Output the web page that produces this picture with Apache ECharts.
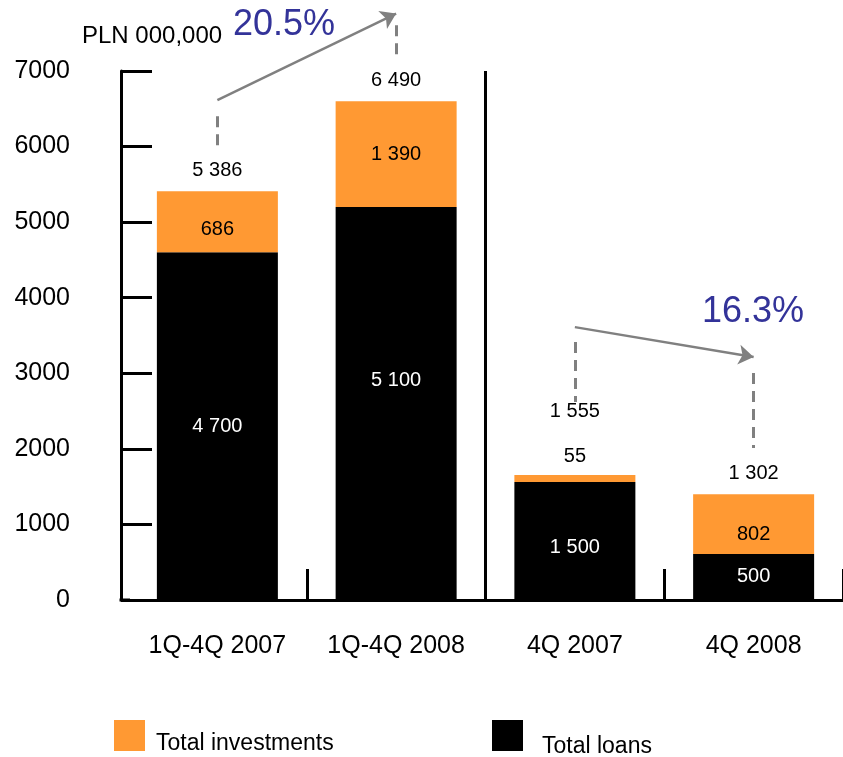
<!DOCTYPE html>
<html>
<head>
<meta charset="utf-8">
<script src="https://cdn.jsdelivr.net/npm/echarts@6/dist/echarts.min.js"></script>
<style>
  html, body { margin: 0; padding: 0; background: #fff; }
  #chart { width: 843px; height: 757px; }
</style>
</head>
<body>
<div id="chart"></div>
<script>
// values
const categories = ['1Q-4Q 2007', '1Q-4Q 2008', '4Q 2007', '4Q 2008'];
const loans = [4600, 5200, 1560, 610];          // bar heights as drawn
const investments = [810, 1400, 95, 790];
const loanLabels = ['4 700', '5 100', '1 500', '500'];
const investmentLabels = ['686', '1 390', '55', '802'];
const totalLabels = ['5 386', '6 490', '1 555', '1 302'];
const growthLabels = ['20.5%', '16.3%'];
const yMax = 7000;
const yStep = 1000;

// annotations (x in category units, y in axis values)
const arrows = [
    [[0.5, 6614], [1.5, 7760]],
    [[2.5, 3611], [3.5, 3215]]
];
const dashes = [
    [[0.5, 6402], [0.5, 6019]],
    [[1.5, 7606], [1.5, 7209]],
    [[2.5, 3413], [2.5, 2619]],
    [[3.5, 3003], [3.5, 2011]]
];
const growthPos = [[0.873, 7609], [3.497, 3811]];
const separator = [[2, 0], [2, yMax]];

const FONT = "'Liberation Sans', Arial, sans-serif";
const ORANGE = '#FF9933';
const GREY = '#808080';

// small per-bar nudges of the inside labels
const loanOffsets = [[0, 0], [0, -23], [0, 6], [0, 0]];
const invOffsets = [[0, 8], [0, 0], [0, 0], [0, 10]];

const gridTop = 71, gridBottom = 157, gridLeft = 128;
const annoMax = yMax * (757 - gridBottom) / (757 - gridBottom - gridTop);

function legendText(padTop, padLeft) {
    return {
        fontSize: 23,
        color: '#000',
        fontFamily: FONT,
        rich: {
            t: { fontSize: 23, color: '#000', fontFamily: FONT, padding: [padTop, 0, 0, padLeft] }
        }
    };
}

let chart = echarts.init(document.getElementById('chart'));
chart.setOption({
    animation: false,
    textStyle: { fontFamily: FONT },
    title: {
        text: 'PLN 000,000',
        left: 82,
        top: 24,
        padding: 0,
        textStyle: { fontSize: 24, fontWeight: 'normal', color: '#000', fontFamily: FONT }
    },
    legend: [{
        data: ['Total investments'],
        left: 114,
        top: 720,
        padding: 0,
        icon: 'rect',
        itemWidth: 31,
        itemHeight: 31,
        selectedMode: false,
        formatter: name => '{t|' + name + '}',
        textStyle: legendText(17, 6)
    }, {
        data: ['Total loans'],
        left: 492,
        top: 720,
        padding: 0,
        icon: 'rect',
        itemWidth: 31,
        itemHeight: 31,
        selectedMode: false,
        formatter: name => '{t|' + name + '}',
        textStyle: legendText(23, 14)
    }],
    grid: [
        { left: gridLeft, right: 0, top: gridTop, bottom: gridBottom },
        { left: gridLeft, right: 0, top: 0, bottom: gridBottom }
    ],
    xAxis: [{
        type: 'category',
        gridIndex: 0,
        data: categories,
        axisLine: { lineStyle: { color: '#000', width: 3 } },
        axisTick: {
            show: true,
            inside: true,
            length: 31,
            interval: (i) => i > 0,
            lineStyle: { color: '#000', width: 3 }
        },
        splitLine: { show: false },
        axisLabel: { interval: 0, fontSize: 25, color: '#000', margin: 34, fontFamily: FONT }
    }, {
        type: 'value',
        gridIndex: 1,
        min: 0,
        max: 4,
        show: false
    }],
    yAxis: [{
        type: 'value',
        gridIndex: 0,
        min: 0,
        max: yMax,
        interval: yStep,
        offset: 7,
        axisLine: { show: true, lineStyle: { color: '#000', width: 3 } },
        axisTick: { show: true, inside: true, length: 31, lineStyle: { color: '#000', width: 3 } },
        splitLine: { show: false },
        axisLabel: { fontSize: 25, color: '#000', margin: 51, fontFamily: FONT, formatter: v => String(v) }
    }, {
        type: 'value',
        gridIndex: 1,
        min: 0,
        max: annoMax,
        show: false
    }],
    graphic: [{
        type: 'line',
        shape: { x1: 119.5, y1: 600, x2: 130, y2: 600 },
        style: { stroke: '#000', lineWidth: 3 }
    }],
    series: [{
        name: 'Total loans',
        type: 'bar',
        stack: 'a',
        barWidth: 121,
        itemStyle: { color: '#000' },
        data: loans.map((v, i) => ({
            value: v,
            label: { offset: loanOffsets[i] }
        })),
        label: {
            show: true,
            position: 'inside',
            color: '#fff',
            fontSize: 20,
            fontFamily: FONT,
            formatter: p => loanLabels[p.dataIndex]
        }
    }, {
        name: 'Total investments',
        type: 'bar',
        stack: 'a',
        barWidth: 121,
        itemStyle: { color: ORANGE },
        data: investments.map((v, i) => {
            if (i === 2) return { value: v, label: { position: 'top', distance: 8 } };
            return { value: v, label: { offset: invOffsets[i] } };
        }),
        label: {
            show: true,
            position: 'inside',
            color: '#000',
            fontSize: 20,
            fontFamily: FONT,
            formatter: p => investmentLabels[p.dataIndex]
        }
    }, {
        name: 'Total',
        type: 'bar',
        stack: 'a',
        barWidth: 121,
        itemStyle: { color: 'transparent' },
        data: totalLabels.map((t, i) => {
            if (i === 2) return { value: 0, label: { distance: 53 } };
            return 0;
        }),
        label: {
            show: true,
            position: 'top',
            distance: 11,
            color: '#000',
            fontSize: 20,
            fontFamily: FONT,
            formatter: p => totalLabels[p.dataIndex]
        }
    }, {
        name: 'separator',
        type: 'line',
        xAxisIndex: 1,
        yAxisIndex: 1,
        data: [],
        markLine: {
            silent: true,
            symbol: ['none', 'none'],
            label: { show: false },
            lineStyle: { color: '#000', width: 3, type: 'solid' },
            data: [[{ coord: separator[0] }, { coord: separator[1] }]]
        }
    }, {
        name: 'arrows',
        type: 'line',
        xAxisIndex: 1,
        yAxisIndex: 1,
        data: [],
        markLine: {
            silent: true,
            symbol: ['none', 'arrow'],
            symbolSize: 15,
            label: { show: false },
            lineStyle: { color: GREY, width: 2.5, type: 'solid' },
            data: arrows.map(a => [{ coord: a[0] }, { coord: a[1] }])
        },
        markPoint: {
            silent: true,
            symbolSize: 0,
            label: {
                show: true,
                position: 'inside',
                color: '#333399',
                fontSize: 36,
                fontFamily: FONT,
                formatter: p => p.name
            },
            data: growthPos.map((c, i) => ({ name: growthLabels[i], coord: c }))
        }
    }, {
        name: 'dashes',
        type: 'line',
        xAxisIndex: 1,
        yAxisIndex: 1,
        data: [],
        markLine: {
            silent: true,
            symbol: ['none', 'none'],
            label: { show: false },
            lineStyle: { color: GREY, width: 3, type: [11, 7] },
            data: dashes.map(d => [{ coord: d[0] }, { coord: d[1] }])
        }
    }]
});
</script>
</body>
</html>
